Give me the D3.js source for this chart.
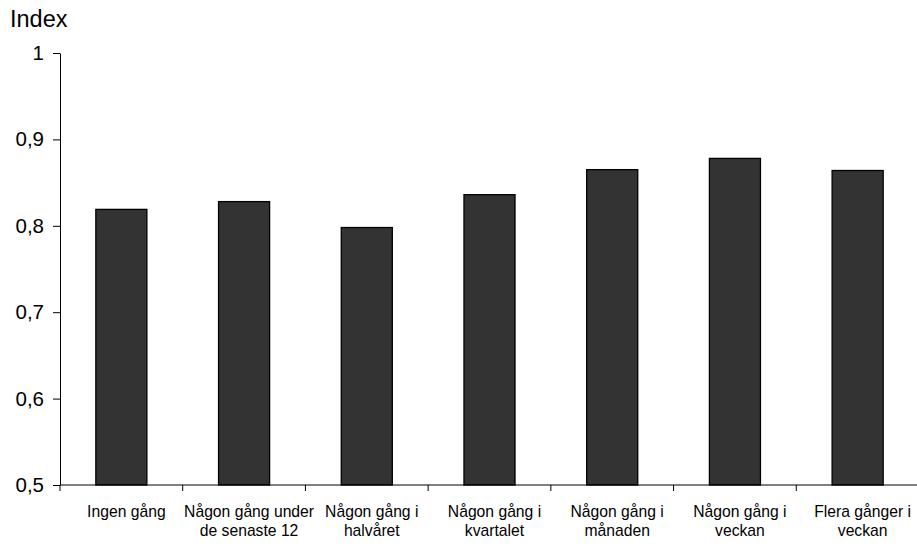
<!DOCTYPE html>
<html>
<head>
<meta charset="utf-8">
<script src="https://cdn.jsdelivr.net/npm/d3@7"></script>
<style>
  html, body { margin: 0; padding: 0; background: #fff; }
  svg { display: block; font-family: "Liberation Sans", Arial, sans-serif; }
</style>
</head>
<body>
<svg id="chart" width="917" height="546"></svg>
<script>
const categories = [
  ["Ingen gång"],
  ["Någon gång under", "de senaste 12"],
  ["Någon gång i", "halvåret"],
  ["Någon gång i", "kvartalet"],
  ["Någon gång i", "månaden"],
  ["Någon gång i", "veckan"],
  ["Flera gånger i", "veckan"]
];
const values = [0.819, 0.828, 0.798, 0.836, 0.865, 0.878, 0.864];
const yTicks = [0.5, 0.6, 0.7, 0.8, 0.9, 1];
const yTickLabels = ["0,5", "0,6", "0,7", "0,8", "0,9", "1"];
const yTitle = "Index";

const svg = d3.select("#chart");
const mLeft = 60, mRight = 919, mTop = 53, mBottom = 485;

const x = d3.scaleBand().domain(d3.range(categories.length)).range([mLeft, mRight]).padding(0);
const y = d3.scaleLinear().domain([0.5, 1]).range([mBottom, mTop]);

const barFrac = 0.416;
const bw = x.bandwidth() * barFrac;

// bars
svg.append("g").selectAll("rect").data(values).join("rect")
  .attr("x", (d, i) => x(i) + (x.bandwidth() - bw) / 2)
  .attr("y", d => y(d))
  .attr("width", bw)
  .attr("height", d => y(0.5) - y(d))
  .attr("fill", "#333333")
  .attr("stroke", "#000")
  .attr("stroke-width", 1.3);

// y axis
const yAxis = d3.axisLeft(y).tickValues(yTicks)
  .tickFormat((d, i) => yTickLabels[i]).tickSizeOuter(0).tickSizeInner(7).tickPadding(9);
const gy = svg.append("g").attr("transform", `translate(${mLeft},0)`).call(yAxis);
gy.selectAll("text").attr("font-size", "20.5px").attr("fill", "#000")
  .attr("font-family", "'Liberation Sans', Arial, sans-serif");
gy.selectAll("line, path").attr("stroke", "#000");

// x axis line
svg.append("line").attr("x1", mLeft).attr("x2", 917).attr("y1", mBottom).attr("y2", mBottom)
  .attr("stroke", "#000").attr("stroke-width", 1);
// x ticks at band boundaries
svg.append("g").selectAll("line").data(d3.range(categories.length)).join("line")
  .attr("x1", i => x(i)).attr("x2", i => x(i))
  .attr("y1", mBottom).attr("y2", mBottom + 6)
  .attr("stroke", "#000");

// category labels
const lab = svg.append("g").selectAll("text").data(categories).join("text")
  .attr("x", (d, i) => x(i) + x.bandwidth() / 2 + 5)
  .attr("y", 517)
  .attr("text-anchor", "middle")
  .attr("font-size", "15.7px")
  .attr("fill", "#000");
lab.selectAll("tspan").data(d => d).join("tspan")
  .attr("x", function() { return d3.select(this.parentNode).attr("x"); })
  .attr("dy", (d, i) => i === 0 ? 0 : 18.5)
  .text(d => d);

// y title
svg.append("text").attr("x", 10).attr("y", 27)
  .attr("font-size", "23.5px").attr("fill", "#000").text(yTitle);
</script>
</body>
</html>
